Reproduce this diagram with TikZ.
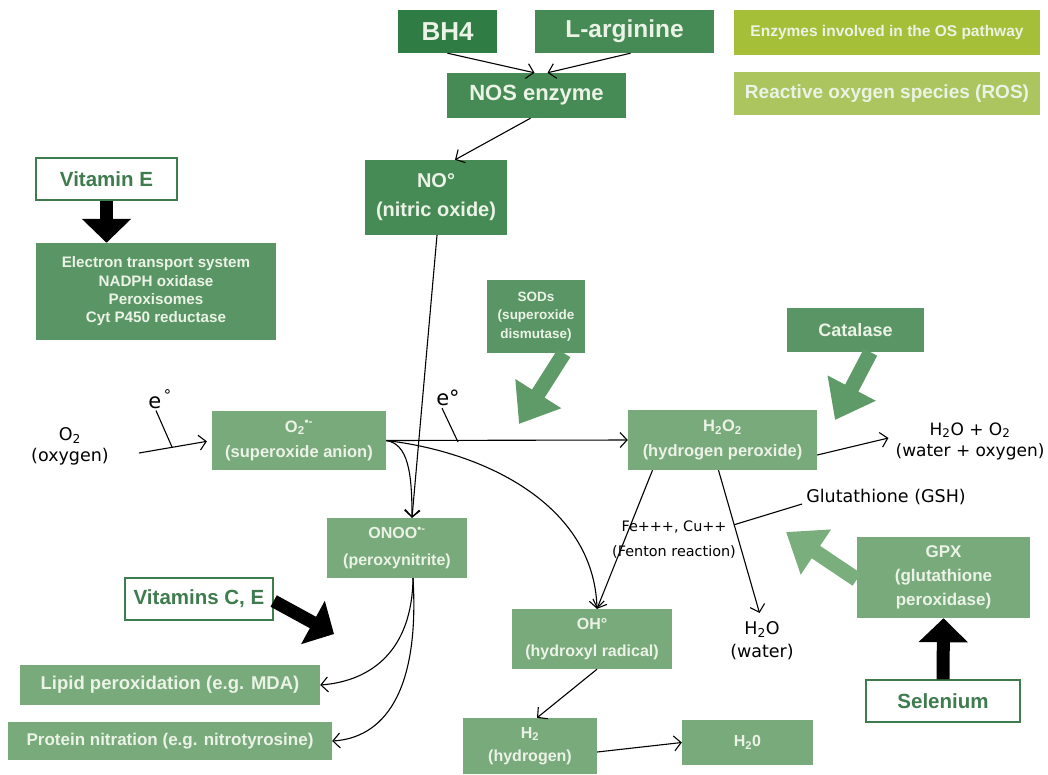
\documentclass[tikz,border=0pt]{standalone}
\usepackage{fontspec}
\setmainfont{Liberation Sans}
\newfontfamily\labelfont{DejaVu Sans}
\usetikzlibrary{arrows.meta,calc}

\definecolor{enzdark}{HTML}{2F7D45}
\definecolor{enz}{HTML}{468B55}
\definecolor{enzmid}{HTML}{5A9665}
\definecolor{ros}{HTML}{79AA7C}
\definecolor{legA}{HTML}{A5C038}
\definecolor{legB}{HTML}{ACC55F}
\definecolor{boxtext}{HTML}{EBF2E6}
\definecolor{vitgreen}{HTML}{3E7C4E}
\definecolor{arrgreen}{HTML}{5E9B68}
\definecolor{arrlight}{HTML}{7BAE7D}

\newcommand\fsz[2]{\fontsize{#1}{#2}\selectfont}

\tikzset{
  fillbox/.style={draw=none, inner sep=0pt, align=center, text=boxtext},
  enzbox/.style={fillbox, fill=enz},
  rosbox/.style={fillbox, fill=ros},
  vitbox/.style={draw=vitgreen, line width=1.3pt, fill=white, text=vitgreen,
    inner sep=0pt, font=\bfseries\fsz{20.5}{24}},
  txt/.style={align=center, text=black, inner sep=0pt},
  thin/.style={draw=black, line width=1.1pt,
    -{Straight Barb[length=7pt,width=15pt,line width=1.1pt]}},
  plainline/.style={draw=black, line width=1.1pt},
  bigblack/.style={draw=black, line width=13pt,
    -{Triangle[length=24pt,width=48pt]}},
  biggreen/.style={line width=15pt, -{Triangle[length=36pt,width=52pt]}},
}

\begin{document}
\begin{tikzpicture}[x=1pt,y=-1pt]
\useasboundingbox (0,0) rectangle (1048,774);

% ---- precursors and NO synthesis
\node[fillbox, fill=enzdark, minimum width=99pt, minimum height=43pt, font=\bfseries\fsz{26}{30}]
  (bh4) at (447.5,31.5) {BH4};
\node[enzbox, minimum width=179pt, minimum height=43pt, font=\bfseries\fsz{24.5}{28}]
  (larg) at (624.5,31.5) {L-arginine};
\node[enzbox, minimum width=179pt, minimum height=45pt, font=\bfseries\fsz{22}{26}]
  (nos) at (536.5,95.5) {NOS enzyme};
\node[enzbox, minimum width=142pt, minimum height=75pt, font=\bfseries\fsz{20}{29}]
  (no) at (436,197.5) {NO°\\(nitric oxide)};

% ---- legend
\node[fillbox, fill=legA, minimum width=306pt, minimum height=45pt, font=\bfseries\fsz{15.5}{18}]
  (legenz) at (887,32.5) {Enzymes involved in the OS pathway};
\node[fillbox, fill=legB, minimum width=306pt, minimum height=43pt, font=\bfseries\fsz{19}{22}]
  (legros) at (887,93.5) {Reactive oxygen species (ROS)};

% ---- sources of superoxide
\node[vitbox, minimum width=141pt, minimum height=42pt] (vite) at (106.5,179) {Vitamin E};
\node[fillbox, fill=enzmid, minimum width=240pt, minimum height=97pt, font=\bfseries\fsz{15.2}{18.3}]
  (ets) at (156,291.5) {Electron transport system\\NADPH oxidase\\Peroxisomes\\Cyt P450 reductase};

% ---- enzymes
\node[fillbox, fill=enzmid, minimum width=98pt, minimum height=73pt, font=\bfseries\fsz{13.5}{18.5}]
  (sod) at (536,316.5) {SODs\\(superoxide\\dismutase)};
\node[fillbox, fill=enzmid, minimum width=137pt, minimum height=44pt, font=\bfseries\fsz{18}{22}]
  (cat) at (855.5,330) {Catalase};
\node[rosbox, minimum width=173pt, minimum height=81pt, font=\bfseries\fsz{17}{24}]
  (gpx) at (943.5,577.5) {GPX\\(glutathione\\peroxidase)};
\node[vitbox, minimum width=154pt, minimum height=42pt] (sel) at (943,701) {Selenium};
\node[vitbox, minimum width=148pt, minimum height=42pt] (vitc) at (199,599) {Vitamins C, E};

% ---- species
\node[txt, font=\labelfont\fsz{17.5}{21}] (o2t) at (70,446) {O\textsubscript{2}\\(oxygen)};
\node[txt, font=\labelfont\fsz{21}{24}] (ea) at (160,399) {e\textsuperscript{\,°}};
\node[txt, font=\labelfont\fsz{21}{24}] (eb) at (448,398) {e°};
\node[rosbox, minimum width=174pt, minimum height=59pt, font=\bfseries\fsz{16.5}{25}]
  (sup) at (299,440.5) {O\textsubscript{2}\textsuperscript{•-}\\(superoxide anion)};
\node[rosbox, minimum width=189pt, minimum height=60pt, font=\bfseries\fsz{16.5}{25}]
  (h2o2) at (722.5,440) {H\textsubscript{2}O\textsubscript{2}\\(hydrogen peroxide)};
\node[txt, font=\labelfont\fsz{17}{21}] (wo) at (970,441) {H\textsubscript{2}O + O\textsubscript{2}\\(water + oxygen)};
\node[txt, font=\labelfont\fsz{17.5}{20}] (gsh) at (886,497) {Glutathione (GSH)};
\node[rosbox, minimum width=140pt, minimum height=60pt, font=\bfseries\fsz{16}{27}]
  (onoo) at (397,548) {ONOO\textsuperscript{•-}\\(peroxynitrite)};
\node[txt, font=\labelfont\fsz{14.4}{25}] (fenton) at (674,540) {Fe+++, Cu++\\(Fenton reaction)};
\node[rosbox, minimum width=160pt, minimum height=60pt, font=\bfseries\fsz{16}{27}]
  (oh) at (592,639) {OH°\\(hydroxyl radical)};
\node[txt, font=\labelfont\fsz{17.5}{23}] (h2ow) at (762,641) {H\textsubscript{2}O\\(water)};
\node[rosbox, minimum width=300pt, minimum height=40pt, font=\bfseries\fsz{18.5}{22}]
  (lipid) at (170,685) {Lipid peroxidation (e.g. MDA)};
\node[rosbox, minimum width=324pt, minimum height=38pt, font=\bfseries\fsz{17}{20}]
  (prot) at (170,741) {Protein nitration (e.g. nitrotyrosine)};
\node[rosbox, minimum width=134pt, minimum height=56pt, font=\bfseries\fsz{16}{23}]
  (h2) at (530,746) {H\textsubscript{2}\\(hydrogen)};
\node[rosbox, minimum width=131pt, minimum height=45pt, font=\bfseries\fsz{16}{19}]
  (h2ob) at (747.5,742.5) {H\textsubscript{2}0};

% ---- free ends of the thick arrows
\coordinate (sodtip) at (519,424);
\coordinate (cattip) at (835,420);
\coordinate (gpxtip) at (786,532);
\coordinate (vctip) at (334,634);

% ---- thin reaction arrows
\draw[thin] (bh4.south) -- ([xshift=-2pt]nos.north);
\draw[thin] ([xshift=6pt]larg.south) -- ([xshift=11pt]nos.north);
\draw[thin] ([xshift=-6pt]nos.south) -- ([xshift=19pt]no.north);
\draw[thin] ([xshift=1pt]no.south) -- ([xshift=15pt]onoo.north);

\draw[thin, shorten >=5pt] ([xshift=30pt,yshift=-7pt]o2t.east) -- (sup.west);
\draw[plainline] ([xshift=-4pt,yshift=-2pt]ea.south) -- (172,447);
\draw[thin] (sup.east) -- (h2o2.west);
\draw[plainline] ([xshift=-6pt,yshift=-2pt]eb.south) -- (458,442);

\draw[thin] (sup.east) .. controls (408,444) and (412,472) .. ([xshift=15pt]onoo.north);
\draw[thin] (sup.east) .. controls (485,452) and (594,505) .. ([xshift=5pt]oh.north);

\draw[thin] ([xshift=-70pt]h2o2.south) -- ([xshift=5pt]oh.north);
\draw[thin, shorten >=9pt] ([xshift=-4pt]h2o2.south) -- (h2ow.north)
  coordinate[pos=0.36] (gshfoot);
\draw[plainline] (gshfoot) -- ([xshift=-4pt,yshift=-7pt]gsh.west);
\draw[thin] ([yshift=-15pt]h2o2.east) -- ([xshift=-7pt,yshift=3pt]wo.west);

\draw[thin] ([xshift=16pt]onoo.south) .. controls (412,650) and (372,681) .. (lipid.east);
\draw[thin] ([xshift=16pt]onoo.south) .. controls (420,695) and (382,738) .. (prot.east);

\draw[thin] ([xshift=5pt]oh.south) -- ([xshift=7pt]h2.north);
\draw[thin] ([yshift=-6pt]h2.east) -- (h2ob.west);

% ---- thick arrows
\draw[bigblack] (vite.south) -- (vite.south |- ets.north);
\draw[bigblack] ([yshift=-2pt]vitc.east) -- (vctip);
\draw[bigblack] (sel.north) -- (gpx.south);
\draw[biggreen, draw=arrgreen, fill=arrgreen] ([xshift=28pt]sod.south) -- (sodtip);
\draw[biggreen, draw=arrgreen, fill=arrgreen] ([xshift=15pt]cat.south) -- (cattip);
\draw[biggreen, draw=arrlight, fill=arrlight] ([yshift=-2pt]gpx.west) -- (gpxtip);
\end{tikzpicture}
\end{document}
